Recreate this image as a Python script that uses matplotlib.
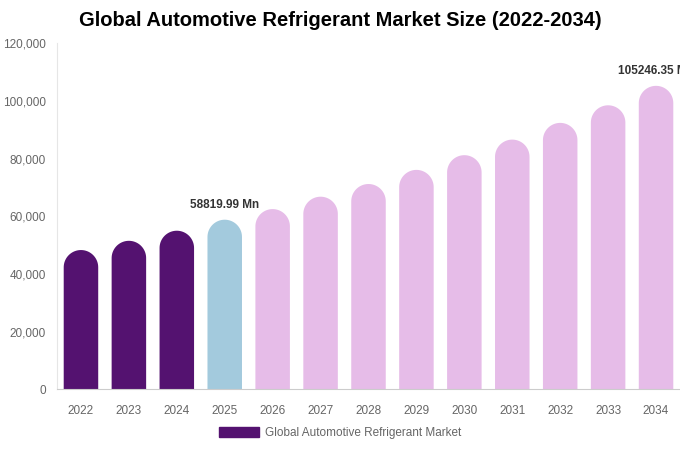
import numpy as np
import matplotlib
matplotlib.use("Agg")
import matplotlib.pyplot as plt
from matplotlib.patches import PathPatch, Patch
from matplotlib.path import Path
from matplotlib.ticker import FuncFormatter

plt.rcParams['font.family'] = ['Liberation Sans', 'DejaVu Sans']

years = ['2022', '2023', '2024', '2025', '2026', '2027', '2028',
         '2029', '2030', '2031', '2032', '2033', '2034']
values = [48300, 51500, 55000, 58819.99, 62500, 66800, 71200,
          76100, 81200, 86600, 92400, 98500, 105246.35]
colors = ['#541270'] * 3 + ['#a3cadd'] + ['#e6bce8'] * 9
labels = {3: '58819.99 Mn', 12: '105246.35 Mn'}

fig = plt.figure(figsize=(6.8, 4.5), dpi=100)
ax = fig.add_axes([57/680, 1 - 389.3/450, 1 - 57/680, (389.3 - 43.3)/450])
ax.set_xlim(-0.5, len(years) - 0.5)
ax.set_ylim(0, 120000)

w = 0.72
# radius of the rounded cap in data units (y), from pixels
ax_h_px = (389.3 - 43.3)
ax_w_px = 680 - 57
r_px = w / len(years) * ax_w_px / 2
ry = r_px / ax_h_px * 120000


def rounded_bar(xc, v, color):
    t = np.linspace(0, np.pi, 40)
    arc_x = xc + (w / 2) * np.cos(t)
    arc_y = (v - ry) + ry * np.sin(t)
    xs = [xc - w / 2, xc + w / 2] + list(arc_x) + [xc - w / 2]
    ys = [0, 0] + list(arc_y) + [0]
    verts = list(zip(xs, ys))
    codes = [Path.MOVETO] + [Path.LINETO] * (len(verts) - 2) + [Path.CLOSEPOLY]
    ax.add_patch(PathPatch(Path(verts, codes), facecolor=color, edgecolor='none'))


x = np.arange(len(years))
for i, v in enumerate(values):
    rounded_bar(x[i], v, colors[i])
    if i in labels:
        ax.text(x[i], v + 3000, labels[i], ha='center', va='bottom',
                fontsize=8.5, fontweight='bold', color='#333333', clip_on=False)

ax.set_xticks(x)
ax.set_xticklabels(years)
ax.set_yticks(range(0, 120001, 20000))
ax.yaxis.set_major_formatter(FuncFormatter(lambda v, p: f'{int(v):,}'))
ax.tick_params(axis='both', length=0, labelsize=8.5, labelcolor='#666666')
ax.tick_params(axis='x', pad=11)
ax.tick_params(axis='y', pad=8)
for s in ['top', 'right']:
    ax.spines[s].set_visible(False)
ax.spines['left'].set_color('#e6e6e6')
ax.spines['bottom'].set_color('#cccccc')

fig.suptitle('Global Automotive Refrigerant Market Size (2022-2034)',
             x=0.5, y=1 - 21/450, va='center', fontsize=14.5,
             fontweight='bold', color='black')

handle = Patch(color='#541270', label='Global Automotive Refrigerant Market')
fig.legend(handles=[handle], loc='center', bbox_to_anchor=(0.5, 1 - 433/450),
           frameon=False, fontsize=8.5, labelcolor='#666666',
           handlelength=3.4, handleheight=1.0, handletextpad=0.5)

fig.savefig('out.png', dpi=100)
